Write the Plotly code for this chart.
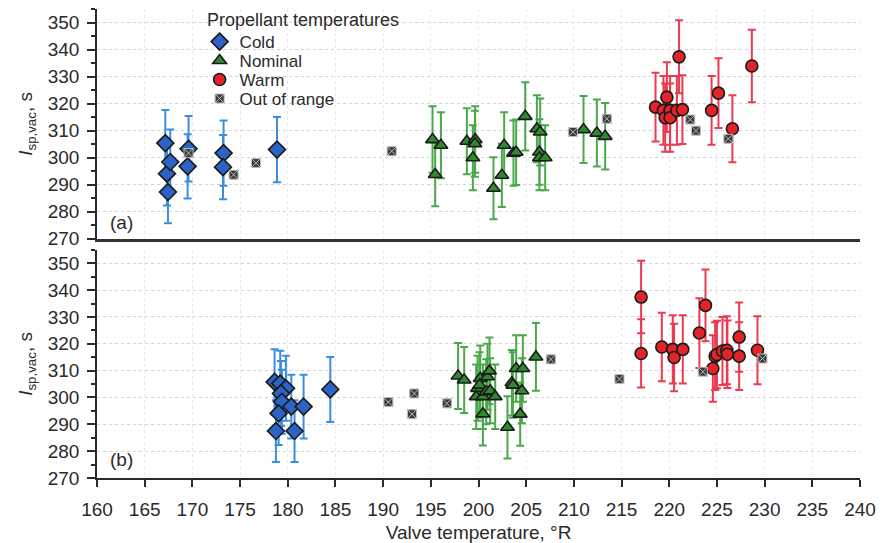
import plotly.graph_objects as go
from plotly.subplots import make_subplots

# ---------------- Panel (a) data ----------------
a_cold_t = [167.16, 167.34, 167.44, 167.68, 169.60, 169.50, 173.27, 173.21, 178.87]
a_cold_v = [305.4, 294.1, 287.3, 298.4, 303.3, 296.8, 301.7, 296.5, 303.0]
a_cold_e = [12.2, 11.8, 11.5, 12.0, 12.1, 11.9, 12.1, 11.9, 12.1]

a_nom_t = [195.18, 195.46, 196.06, 198.78, 199.65, 199.62, 199.41, 201.57, 202.45, 202.69,
           203.67, 203.95, 204.90, 206.12, 206.47, 206.39, 206.39, 206.99, 211.01, 212.41, 213.28]
a_nom_v = [306.7, 293.8, 304.6, 306.1, 306.7, 305.2, 300.0, 288.7, 293.5, 304.6,
           301.7, 302.0, 315.3, 310.7, 309.5, 302.1, 300.0, 300.0, 310.4, 309.1, 307.9]
a_nom_e = [12.3, 11.8, 12.2, 12.2, 12.3, 12.2, 12.0, 11.5, 11.7, 12.2,
           12.1, 12.1, 12.6, 12.4, 12.4, 12.1, 12.0, 12.0, 12.4, 12.4, 12.3]

a_warm_t = [218.56, 219.75, 219.39, 219.57, 220.09, 220.09, 220.80, 221.38, 221.03, 224.44,
            225.16, 226.62, 228.66]
a_warm_v = [318.7, 322.4, 317.5, 314.8, 317.5, 314.8, 317.5, 317.8, 337.3, 317.5,
            323.9, 310.7, 333.9]
a_warm_e = [12.7, 12.9, 12.7, 12.6, 12.7, 12.6, 12.7, 12.7, 13.5, 12.7,
            12.9, 12.4, 13.4]

a_out_t = [169.60, 174.32, 176.67, 190.9, 209.90, 213.46, 222.20, 222.80, 226.20]
a_out_v = [301.7, 293.7, 298.0, 302.4, 309.5, 314.4, 314.1, 310.0, 307.0]

# ---------------- Panel (b) data ----------------
b_cold_t = [178.62, 179.21, 179.81, 179.29, 179.39, 180.37, 181.66, 179.04, 178.76, 180.71, 184.46]
b_cold_v = [305.8, 305.2, 303.4, 301.5, 298.4, 296.6, 296.6, 294.1, 287.5, 287.5, 303.0]
b_cold_e = [12.2, 12.2, 12.1, 12.1, 11.9, 11.9, 11.9, 11.8, 11.5, 11.5, 12.1]

b_nom_t = [197.86, 198.50, 200.18, 199.90, 200.11, 199.76, 200.46, 200.81, 200.94, 201.15,
           201.23, 201.75, 200.46, 203.04, 203.50, 203.61, 203.95, 204.65, 204.55, 204.37, 206.02]
b_nom_v = [308.0, 306.5, 307.1, 303.4, 304.6, 300.3, 300.3, 302.1, 307.7, 309.9,
           302.5, 300.3, 293.9, 288.9, 305.5, 304.6, 310.8, 310.8, 302.5, 293.8, 315.1]
b_nom_e = [12.3, 12.3, 12.3, 12.1, 12.2, 12.0, 12.0, 12.1, 12.3, 12.4,
           12.1, 12.0, 11.8, 11.6, 12.2, 12.2, 12.4, 12.4, 12.1, 11.8, 12.6]

b_warm_t = [217.05, 217.05, 219.22, 220.37, 220.51, 221.42, 223.16, 223.80, 224.57, 224.81,
            225.00, 225.58, 226.04, 226.10, 227.33, 227.33, 229.25]
b_warm_v = [337.4, 316.4, 318.8, 317.9, 314.9, 317.9, 324.0, 334.3, 310.8, 315.4,
            316.0, 317.3, 317.6, 316.1, 322.5, 315.4, 317.6]
b_warm_e = [13.5, 12.7, 12.8, 12.7, 12.6, 12.7, 13.0, 13.4, 12.4, 12.6,
            12.6, 12.7, 12.7, 12.6, 12.9, 12.6, 12.7]

b_out_t = [190.55, 193.26, 193.02, 196.69, 207.59, 214.78, 223.52, 229.77]
b_out_v = [298.3, 301.5, 293.8, 297.8, 314.2, 306.9, 309.6, 314.5]

x_ticks = list(range(160, 241, 5))
y_ticks = list(range(270, 351, 10))
legend_title = "Propellant temperatures"

FONT = "Liberation Sans, Arial, sans-serif"
TXT = "#2a2a2a"

styles = {
    "Cold": dict(symbol="diamond", size=13, fill="#2b64c6", err="#3a8ee0", legend="legend"),
    "Nominal": dict(symbol="triangle-up", size=12, fill="#2f8a2f", err="#4aa84a", legend="legend2"),
    "Warm": dict(symbol="circle", size=12, fill="#e0242a", err="#ec3a50", legend="legend3"),
}

fig = make_subplots(rows=2, cols=1, shared_xaxes=False, vertical_spacing=0.0)


def add_series(name, t, v, e, row, show):
    s = styles[name]
    fig.add_trace(go.Scatter(
        x=t, y=v, mode="markers", name=name, legendgroup=name, showlegend=show,
        legend=s["legend"],
        marker=dict(symbol=s["symbol"], size=s["size"], color=s["fill"],
                    line=dict(color="#1a1a1a", width=1.6)),
        error_y=dict(type="data", array=e, visible=True, color=s["err"],
                     thickness=2, width=4),
    ), row=row, col=1)


def add_out(t, v, row, show):
    fig.add_trace(go.Scatter(
        x=t, y=v, mode="markers", name="Out of range", legendgroup="out",
        showlegend=show, legend="legend4",
        marker=dict(symbol="square-x", size=9, color="#3a3a3a",
                    line=dict(color="#bdbdbd", width=1)),
    ), row=row, col=1)


add_series("Cold", a_cold_t, a_cold_v, a_cold_e, 1, True)
add_series("Nominal", a_nom_t, a_nom_v, a_nom_e, 1, True)
add_series("Warm", a_warm_t, a_warm_v, a_warm_e, 1, True)
add_out(a_out_t, a_out_v, 1, True)

add_series("Cold", b_cold_t, b_cold_v, b_cold_e, 2, False)
add_series("Nominal", b_nom_t, b_nom_v, b_nom_e, 2, False)
add_series("Warm", b_warm_t, b_warm_v, b_warm_e, 2, False)
add_out(b_out_t, b_out_v, 2, False)

yaxis_common = dict(
    range=[270, 355], tickvals=y_ticks, ticks="outside", ticklen=8, tickwidth=1.5,
    tickcolor=TXT, showline=True, linecolor=TXT, linewidth=1.5, ticklabelstandoff=4,
    minor=dict(dtick=5, tick0=270, ticks="outside", ticklen=4, tickcolor=TXT, showgrid=False),
    showgrid=True, gridcolor="#d4d4d4", griddash="dot", gridwidth=1,
    zeroline=False, tickfont=dict(size=19, color=TXT, family=FONT), automargin=False,
    title=dict(text="<i>I</i><sub>sp,vac</sub>, s", font=dict(size=19, color=TXT, family=FONT),
               standoff=10),
)


def legend_box(ypos):
    return dict(
        x=0.1345, y=ypos, xanchor="left", yanchor="middle",
        font=dict(size=17, color=TXT, family=FONT),
        bgcolor="rgba(0,0,0,0)", itemsizing="trace", borderwidth=0,
    )


fig.update_layout(
    width=880, height=543,
    margin=dict(l=97, r=20, t=9, b=65),
    paper_bgcolor="white", plot_bgcolor="white",
    font=dict(family=FONT, color=TXT),
    showlegend=True,
    legend=legend_box(0.9295),
    legend2=legend_box(0.8892),
    legend3=legend_box(0.8487),
    legend4=legend_box(0.8082),
    xaxis=dict(
        domain=[0, 1], range=[160, 240], tickvals=x_ticks, showticklabels=False,
        ticks="", showline=True, linecolor="#333", linewidth=2.5, mirror=False,
        showgrid=True, gridcolor="#e8e8e8", griddash="dot", zeroline=False,
    ),
    xaxis2=dict(
        domain=[0, 1], range=[160, 240], tickvals=x_ticks, ticks="outside", ticklen=7,
        tickwidth=1.5, tickcolor=TXT, showline=True, linecolor=TXT, linewidth=1.5,
        showgrid=True, gridcolor="#e8e8e8", griddash="dot", zeroline=False,
        tickfont=dict(size=19, color=TXT, family=FONT), ticklabelstandoff=6,
        automargin=False,
        title=dict(text="Valve temperature, °R", font=dict(size=19, color=TXT, family=FONT),
                   standoff=8),
    ),
    yaxis=dict(domain=[0.51, 1.0], **yaxis_common),
    yaxis2=dict(domain=[0.0, 0.4865], **yaxis_common),
)

fig.add_annotation(text=legend_title, x=0.1415, y=0.9765, xref="paper", yref="paper",
                   xanchor="left", yanchor="middle", showarrow=False,
                   font=dict(size=18, color=TXT, family=FONT))
fig.add_annotation(text="(a)", x=162.6, y=276.0, xref="x", yref="y", showarrow=False,
                   font=dict(size=19, color=TXT, family=FONT))
fig.add_annotation(text="(b)", x=162.6, y=276.8, xref="x2", yref="y2", showarrow=False,
                   font=dict(size=19, color=TXT, family=FONT))

fig.write_html("out.html", config={"displayModeBar": False},
               post_script="document.body.style.margin='0';")
